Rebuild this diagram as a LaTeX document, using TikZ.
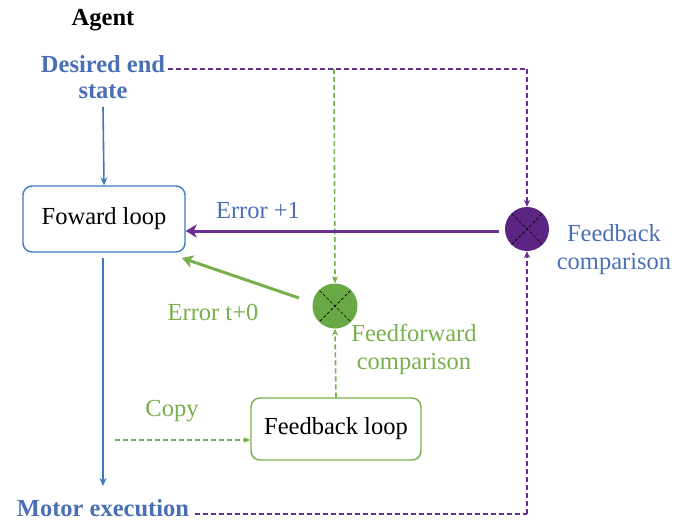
\documentclass[tikz,border=0pt]{standalone}
\usepackage{fontspec}
\setmainfont{Liberation Serif}
\usetikzlibrary{arrows.meta}
\definecolor{bluetxt}{HTML}{4A6FB5}
\definecolor{blueln}{HTML}{3C7BC0}
\definecolor{purp}{HTML}{6A2D91}
\definecolor{purpfill}{HTML}{5C2483}
\definecolor{grn}{HTML}{77B04C}
\definecolor{grnfill}{HTML}{68A845}
\tikzset{
  lbl/.style={font=\fontsize{24.5}{28}\selectfont, inner sep=0pt},
  box/.style={lbl, draw, rounded corners=9pt, line width=1.4pt, fill=white},
  cmp/.style={circle, draw=none, inner sep=0pt, minimum size=#1,
     path picture={\draw[black, dash pattern=on 3pt off 2pt, line width=0.7pt]
        (path picture bounding box.north west) -- (path picture bounding box.south east)
        (path picture bounding box.north east) -- (path picture bounding box.south west);}},
  bluearr/.style={draw=blueln, line width=1.6pt, -{Stealth[length=8pt,width=7pt]}},
  pdash/.style={draw=purp, line width=1.6pt, dash pattern=on 5pt off 3pt},
  gdash/.style={draw=grn, line width=1.6pt, dash pattern=on 5pt off 3pt},
  tip/.style={-{Stealth[length=7pt,width=6pt]}},
}
\begin{document}
\begin{tikzpicture}[x=1pt,y=-1pt]
\useasboundingbox (0,0) rectangle (674,522);
% text nodes
\node[lbl, font=\fontsize{24.5}{28}\selectfont\bfseries] (agent) at (103,20) {Agent};
\node[lbl, font=\fontsize{24.5}{26}\selectfont\bfseries, text=bluetxt, align=center] (des) at (103,77) {Desired end\\state};
\node[lbl, font=\fontsize{24.5}{28}\selectfont\bfseries, text=bluetxt] (motor) at (103,508) {Motor execution};
% boxes
\node[box, draw=blueln, minimum width=162pt, minimum height=66pt] (fwd) at (104,219) {Foward loop};
\node[box, draw=grn, minimum width=170pt, minimum height=62pt] (fbl) at (336,429) {Feedback loop};
% comparators
\node[cmp=44pt, fill=purpfill] (fbc) at (527,229) {};
\node[cmp=45pt, fill=grnfill] (ffc) at (335,306) {};
% labels
\node[lbl, text=bluetxt] (e1) at (258,211) {Error +1};
\node[lbl, text=bluetxt, align=center] (fbclbl) at (614,250) {Feedback\\comparison};
\node[lbl, text=grn] (e0) at (213,312) {Error t+0};
\node[lbl, text=grn, align=center] (ffclbl) at (414,349) {Feedforward\\comparison};
\node[lbl, text=grn] (copy) at (172,411) {Copy};
% coordinates
\coordinate (dR) at (168,69);
\coordinate (pC) at (527,69);
\coordinate (gC) at (334,69);
\coordinate (mR) at (195,514);
\coordinate (pB) at (527,514);
\coordinate (gStart) at (299,298);
\coordinate (gEnd) at (182,258);
\coordinate (cpS) at (115,440);
\coordinate (fS) at (103,258);
\coordinate (mN) at (103,486);
\coordinate (dS) at (103,107);
\coordinate (pStart) at (499,231);
% connectors
\draw[bluearr] (dS) -- (fwd.north);
\draw[bluearr] (fS) -- (mN);
\draw[pdash] (dR) -- (pC);
\draw[pdash, tip] (pC) -- (fbc.north);
\draw[gdash, tip] (gC) -- (ffc.north);
\draw[pdash] (mR) -- (pB);
\draw[pdash, tip] (pB) -- (fbc.south);
\draw[draw=purp, line width=3pt, -{Stealth[length=11pt,width=13pt,inset=3pt]}] (pStart) -- (fwd.east |- pStart);
\draw[draw=grn, line width=3pt, -{Stealth[length=11pt,width=13pt,inset=3pt]}] (gStart) -- (gEnd);
\draw[gdash, tip] (cpS) -- (cpS -| fbl.west);
\draw[gdash, tip] (fbl.north) -- (ffc.south);
\end{tikzpicture}
\end{document}
